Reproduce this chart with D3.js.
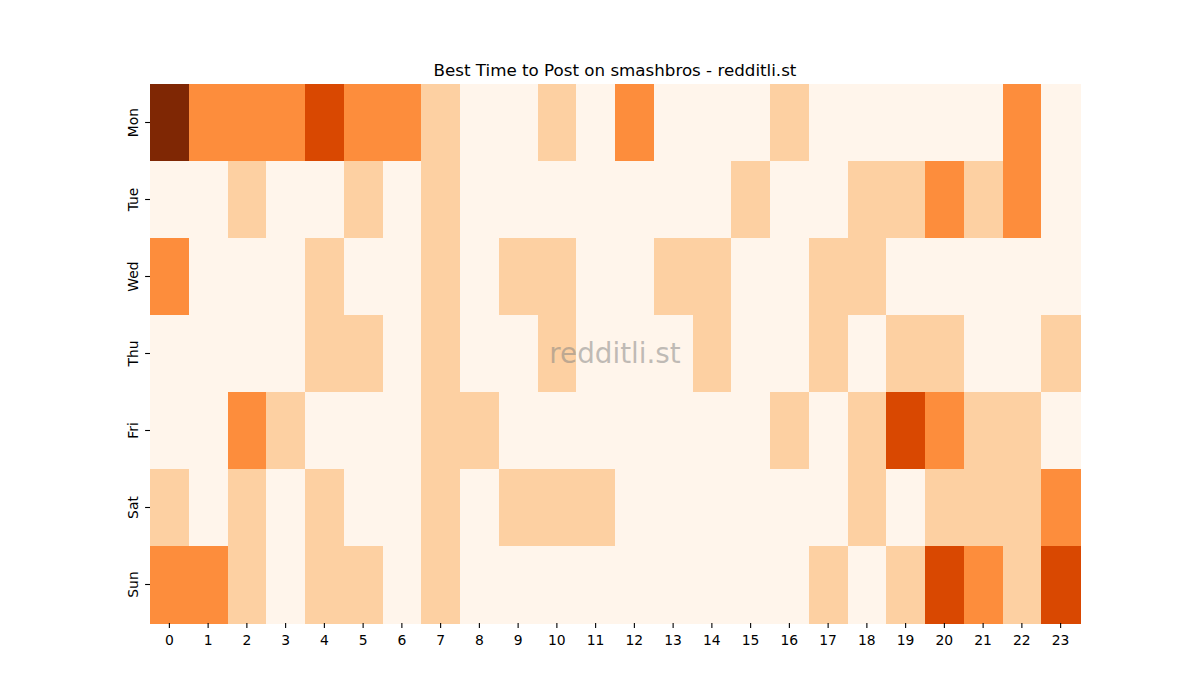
<!DOCTYPE html>
<html lang="en">
<head>
  <meta charset="UTF-8">
  <title>Best Time to Post on smashbros - redditli.st</title>
  <style>
    html, body { margin: 0; padding: 0; background: #fff; }
    svg { display: block; font-family: "DejaVu Sans", sans-serif; }
  </style>
</head>
<body>
  <svg id="chart" width="1200" height="700"></svg>

  <script src="https://d3js.org/d3.v7.min.js"></script>
  <script>
    const days = ["Mon", "Tue", "Wed", "Thu", "Fri", "Sat", "Sun"];
    const hours = d3.range(24).map(String);

    // post score per day (rows) and hour (columns)
    const mon = [4, 2, 2, 2, 3, 2, 2, 1, 0, 0, 1, 0, 2, 0, 0, 0, 1, 0, 0, 0, 0, 0, 2, 0];
    const tue = [0, 0, 1, 0, 0, 1, 0, 1, 0, 0, 0, 0, 0, 0, 0, 1, 0, 0, 1, 1, 2, 1, 2, 0];
    const wed = [2, 0, 0, 0, 1, 0, 0, 1, 0, 1, 1, 0, 0, 1, 1, 0, 0, 1, 1, 0, 0, 0, 0, 0];
    const thu = [0, 0, 0, 0, 1, 1, 0, 1, 0, 0, 1, 0, 0, 0, 1, 0, 0, 1, 0, 1, 1, 0, 0, 1];
    const fri = [0, 0, 2, 1, 0, 0, 0, 1, 1, 0, 0, 0, 0, 0, 0, 0, 1, 0, 1, 3, 2, 1, 1, 0];
    const sat = [1, 0, 1, 0, 1, 0, 0, 1, 0, 1, 1, 1, 0, 0, 0, 0, 0, 0, 1, 0, 1, 1, 1, 2];
    const sun = [2, 2, 1, 0, 1, 1, 0, 1, 0, 0, 0, 0, 0, 0, 0, 0, 0, 1, 0, 1, 3, 2, 1, 3];
    const rows = [mon, tue, wed, thu, fri, sat, sun];

    const W = 1200, H = 700;
    const margin = { left: 150, right: 120, top: 84, bottom: 77 };

    const svg = d3.select("#chart");

    const x = d3.scaleBand().domain(hours).range([margin.left, W - margin.right]);
    const y = d3.scaleBand().domain(days).range([margin.top, H - margin.bottom]);

    // matplotlib "Oranges" sampled at 0, .25, .5, .75, 1
    const color = d3.scaleLinear()
      .domain([0, 1, 2, 3, 4])
      .range(["#fff5eb", "#fdd0a2", "#fd8d3c", "#d94801", "#7f2704"]);

    const cells = [];
    rows.forEach((r, i) => r.forEach((v, j) => cells.push({ day: days[i], hour: hours[j], v })));

    svg.append("g")
      .selectAll("rect")
      .data(cells)
      .join("rect")
      .attr("x", d => x(d.hour))
      .attr("y", d => y(d.day))
      .attr("width", x.bandwidth() + 0.5)
      .attr("height", y.bandwidth() + 0.5)
      .attr("fill", d => color(d.v))
      .attr("shape-rendering", "crispEdges");

    // axes, no spines
    const xAxis = svg.append("g")
      .attr("transform", `translate(0,${H - margin.bottom})`)
      .call(d3.axisBottom(x).tickSize(4.9).tickPadding(4.9));
    const yAxis = svg.append("g")
      .attr("transform", `translate(${margin.left},0)`)
      .call(d3.axisLeft(y).tickSize(4.9).tickPadding(4.9));

    [xAxis, yAxis].forEach(g => {
      g.select(".domain").remove();
      g.selectAll(".tick line").attr("stroke", "#000").attr("stroke-width", 1.1);
      g.selectAll(".tick text")
        .attr("fill", "#000")
        .style("font-size", "13.9px")
        .style("font-family", "DejaVu Sans, sans-serif");
    });

    xAxis.selectAll(".tick text").attr("dy", "0.9em");

    yAxis.selectAll(".tick text")
      .attr("x", null)
      .attr("dy", null)
      .attr("text-anchor", "middle")
      .attr("dominant-baseline", "auto")
      .attr("transform", "translate(-12.5,0) rotate(-90)");

    // title
    svg.append("text")
      .attr("x", (margin.left + W - margin.right) / 2)
      .attr("y", margin.top - 8.5)
      .attr("text-anchor", "middle")
      .style("font-size", "16.7px")
      .attr("fill", "#000")
      .text("Best Time to Post on smashbros - redditli.st");

    // watermark
    svg.append("text")
      .attr("x", (margin.left + W - margin.right) / 2)
      .attr("y", (margin.top + H - margin.bottom) / 2)
      .attr("text-anchor", "middle")
      .attr("dominant-baseline", "central")
      .style("font-size", "27.8px")
      .attr("fill", "#808080")
      .attr("fill-opacity", 0.5)
      .text("redditli.st");
  </script>
</body>
</html>
